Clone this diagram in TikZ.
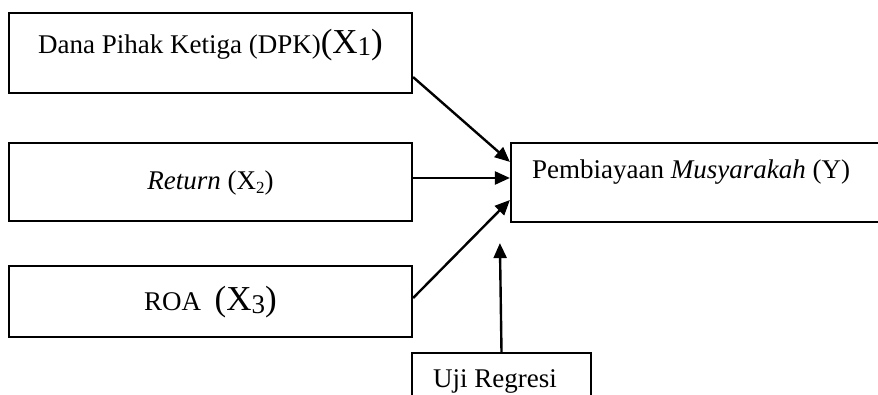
\documentclass[tikz,border=0pt]{standalone}
\usepackage{fontspec}
\setmainfont{Liberation Serif}
\usetikzlibrary{arrows.meta,calc}
\newcommand{\bigtxt}{\fontsize{35}{40}\selectfont}
\tikzset{
  box/.style={draw, line width=2.2pt, rectangle, inner sep=0pt},
  lbl/.style={font=\fontsize{27}{30}\selectfont, inner sep=0pt},
  arr/.style={line width=2.4pt, -{Triangle[length=15pt,width=13pt]}}
}
\begin{document}
\begin{tikzpicture}[x=1pt,y=-1pt]
\useasboundingbox (0,0) rectangle (878,395);
\node[box, minimum width=403pt, minimum height=80pt] (b1) at (210.5,53) {};
\node[box, minimum width=403pt, minimum height=78pt] (b2) at (210.5,182) {};
\node[box, minimum width=403pt, minimum height=71pt] (b3) at (210.5,301.5) {};
\node[box, minimum width=379pt, minimum height=79pt] (y) at (700.5,182.5) {};
\node[box, minimum width=179pt, minimum height=67pt] (u) at (501.5,386.5) {};

\node[lbl, anchor=base] (t1) at (210.5,54) {Dana Pihak Ketiga (DPK){\bigtxt(X}\raisebox{-2pt}{1}{\bigtxt)}};
\node[lbl, anchor=base] (t2) at (210.5,190) {\textit{Return} (X\raisebox{-4pt}{\fontsize{17}{20}\selectfont 2})};
\node[lbl, anchor=base] (t3) at (210.5,310) {ROA\ \ {\bigtxt(X}\raisebox{-3pt}{3}{\bigtxt)}};
\node[lbl, anchor=base west] (ty) at (532,179) {Pembiayaan \textit{Musyarakah} (Y)};
\node[lbl, anchor=base west] (tu) at (433,387) {Uji Regresi};

\draw[arr] ($(b1.south east)+(0,-17)$) -- ($(y.north west)+(0,20)$);
\draw[arr] ($(b2.east)+(0,-4)$) -- ($(y.west)+(0,-4.5)$);
\draw[arr] ($(b3.east)+(0,-3.5)$) -- ($(y.west)+(0,17.5)$);
\draw[arr] (u.north) -- ($(y.south west)+(-10,20)$);
\end{tikzpicture}
\end{document}
